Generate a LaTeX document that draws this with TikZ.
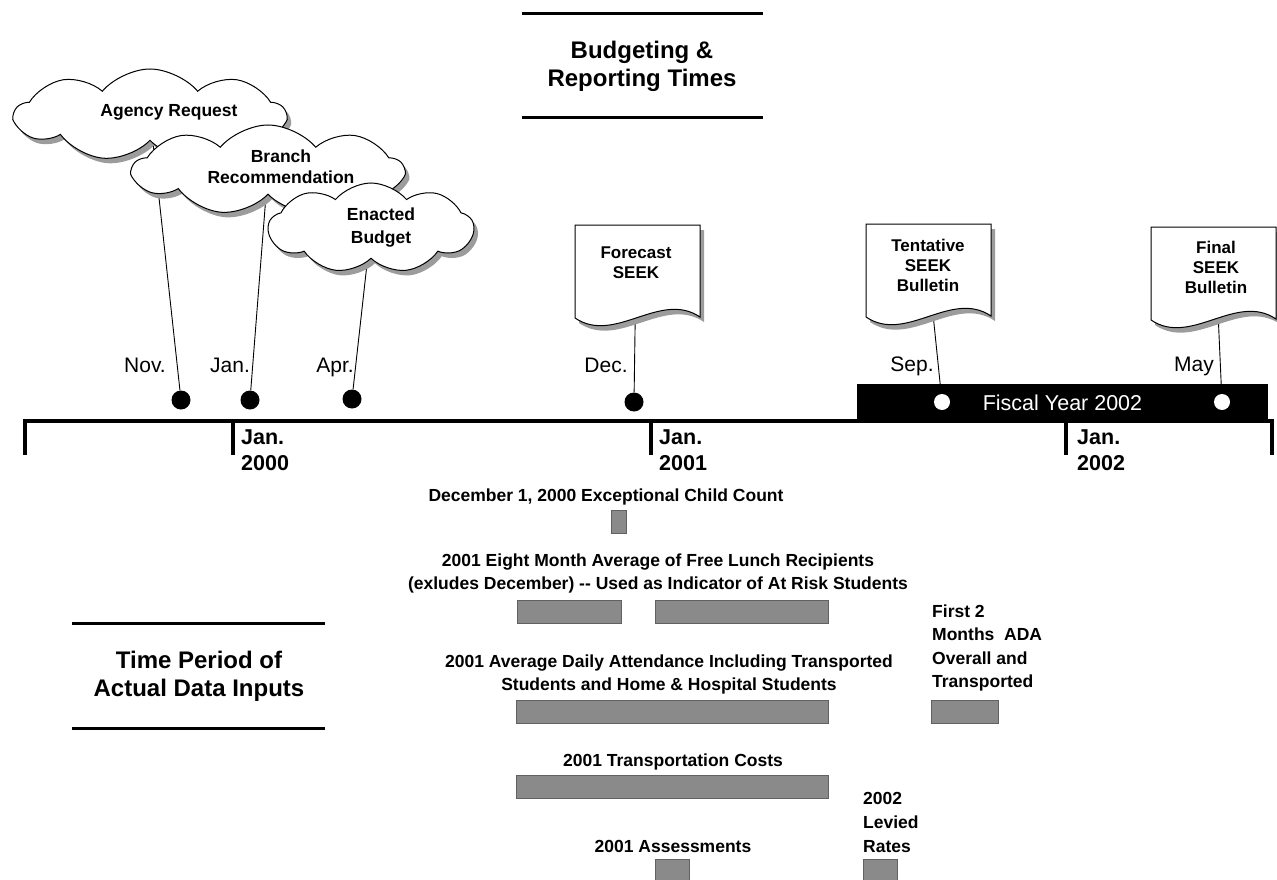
\documentclass[tikz,border=0pt]{standalone}
\usepackage{fontspec}
\setmainfont{Liberation Sans}
\usepackage{tikz}
\usetikzlibrary{shapes.symbols,shadows,backgrounds}

\definecolor{bargray}{HTML}{8A8A8A}
\definecolor{shadowgray}{HTML}{9C9C9C}

\tikzset{
  heading/.style={font=\bfseries\fontsize{24}{28}\selectfont, align=center},
  rule/.style={line width=3pt},
  axisline/.style={line width=4pt},
  month/.style={font=\fontsize{21}{25}\selectfont, anchor=base},
  year/.style={font=\bfseries\fontsize{21.5}{26}\selectfont, align=left, anchor=west, inner sep=0pt},
  small/.style={font=\bfseries\fontsize{17.5}{23}\selectfont, align=center, inner sep=0pt},
  grey shadow/.style={drop shadow={shadow xshift=4pt, shadow yshift=-5pt, fill=shadowgray, opacity=1}},
  puff/.style={cloud, cloud puffs=9, cloud puff arc=100, cloud ignores aspect, draw, line width=1pt, fill=white, grey shadow},
  docline/.style={draw, line width=1pt, fill=white, grey shadow},
  doctext/.style={font=\bfseries\fontsize{17}{20}\selectfont, align=center, inner sep=0pt},
  dot/.style={circle, fill=black, minimum size=19pt, inner sep=0pt},
  hole/.style={circle, fill=white, minimum size=16pt, inner sep=0pt},
  stem/.style={line width=0.9pt},
  bar/.style={fill=bargray, draw=bargray!70!black, line width=0.6pt},
}

\begin{document}
\begin{tikzpicture}[x=1pt,y=-1pt]
\useasboundingbox (0,0) rectangle (1277,880);

% headings
\draw[rule] (522,14) -- (763,14);
\draw[rule] (522,118) -- (763,118);
\node[heading] (budget) at (642,66) {Budgeting \&\\Reporting Times};

\draw[rule] (72,623) -- (325,623);
\draw[rule] (72,728) -- (325,728);
\node[heading] (inputs) at (199,676) {Time Period of\\Actual Data Inputs};

% time line
\draw[axisline] (25,421) -- (1272,421);
\foreach \x in {25,233,651,1066,1272}
    \draw[axisline] (\x,419) -- (\x,455);

\node[year] (y2000) at (241,450) {Jan.\\2000};
\node[year] (y2001) at (659,450) {Jan.\\2001};
\node[year] (y2002) at (1077,450) {Jan.\\2002};

\node[fill=black, minimum width=411pt, minimum height=37pt, inner sep=0pt,
      text=white, font=\fontsize{21.5}{25}\selectfont] (fiscal) at (1062.5,402.5) {Fiscal Year 2002};

% dates
\node[dot] (nov) at (181,400) {};
\node[dot] (jan) at (250,400) {};
\node[dot] (apr) at (352,399) {};
\node[dot] (dec) at (634,402) {};
\node[hole] (sep) at (942,402) {};
\node[hole] (may) at (1222,402) {};

\node[month] at (145,372) {Nov.};
\node[month] at (230,372) {Jan.};
\node[month] at (335,372) {Apr.};
\node[month] at (606,372) {Dec.};
\node[month] at (912,371) {Sep.};
\node[month] at (1194,371) {May};

% clouds
\node[puff, minimum width=270pt, minimum height=92pt] (agency) at (150,115) {};
\node[small] at (169,112) {Agency Request};
\node[puff, minimum width=270pt, minimum height=90pt] (branch) at (268,170) {};
\node[small, font=\bfseries\fontsize{17.5}{21}\selectfont] at (281,167) {Branch\\Recommendation};
\node[puff, minimum width=205pt, minimum height=90pt] (enacted) at (371,228) {};
\node[small] at (381,228) {Enacted\\Budget};

% documents
\foreach \xl/\yt in {575/225, 866/224, 1151/227}
    \draw[docline] (\xl,\yt) -- (\xl+125,\yt) -- (\xl+125,\yt+92)
        .. controls (\xl+85,\yt+65) and (\xl+40,\yt+120) .. (\xl,\yt+93) -- cycle;

\node[doctext] (forecast) at (636,263) {Forecast\\SEEK};
\node[doctext] (tentative) at (928,265) {Tentative\\SEEK\\Bulletin};
\node[doctext] (final) at (1216,267) {Final\\SEEK\\Bulletin};

\begin{scope}[on background layer]
\draw[stem] (nov) -- (agency);
\draw[stem] (jan) -- (branch);
\draw[stem] (apr) -- (enacted);
\draw[stem] (dec) -- (forecast);
\draw[stem] (sep) -- (tentative);
\draw[stem] (may) -- (final);
\end{scope}

% data inputs
\node[small] (count) at (606,497) {December 1, 2000 Exceptional Child Count};
\draw[bar] (611,510) rectangle (626,533);

\node[small] (lunch) at (658,573) {2001 Eight Month Average of Free Lunch Recipients\\(exludes December) {-}{-} Used as Indicator of At Risk Students};
\draw[bar] (517,600) rectangle (621,623);
\draw[bar] (655,600) rectangle (828,623);

\node[small] (ada) at (669,674) {2001 Average Daily Attendance Including Transported\\Students and Home \& Hospital Students};
\draw[bar] (516,700) rectangle (828,723);

\node[small, align=left, anchor=west, font=\bfseries\fontsize{17.5}{23.5}\selectfont] (first) at (932,648) {First 2\\Months~ ADA\\Overall and\\Transported};
\draw[bar] (931,700) rectangle (998,723);

\node[small] (trans) at (673,762) {2001 Transportation Costs};
\draw[bar] (516,775) rectangle (828,798);

\node[small] (assess) at (673,846) {2001 Assessments};
\draw[bar] (655,859) rectangle (689,882);

\node[small, align=left, anchor=west, font=\bfseries\fontsize{17.5}{24}\selectfont] (levied) at (863,822) {2002\\Levied\\Rates};
\draw[bar] (863,859) rectangle (897,882);

\end{tikzpicture}
\end{document}
